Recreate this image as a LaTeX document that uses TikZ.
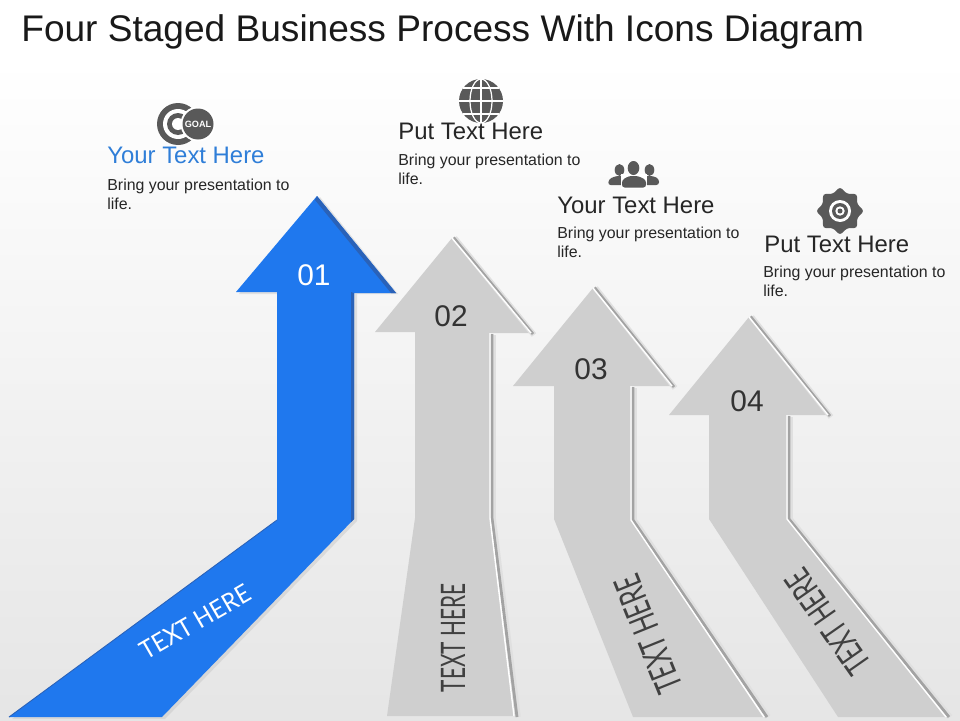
\documentclass[tikz,border=0pt]{standalone}
\usepackage{fontspec}
\setmainfont{Liberation Sans}
\newfontfamily\arrowfont{Lato}
\definecolor{bluearrow}{HTML}{1F78EE}
\definecolor{blueedge}{HTML}{2A62B8}
\definecolor{greyarrow}{HTML}{CFCFCF}
\definecolor{darkicon}{HTML}{595959}
\definecolor{bluehead}{HTML}{2F7ED8}
\tikzset{
  headtext/.style={anchor=base west,inner sep=0pt,font=\fontsize{13.6}{16}\selectfont,text=black!85},
  bodytext/.style={anchor=north west,inner sep=0pt,align=left,font=\fontsize{9.05}{10.8}\selectfont,text=black!85},
  numtext/.style={inner sep=0pt,font=\fontsize{17}{20}\selectfont,text=black!80},
  arrowtext/.style={inner sep=0pt,font=\arrowfont\fontsize{16}{18}\selectfont,text=black!75},
  greybody/.style={fill=greyarrow,draw=none},
  lightedge/.style={draw=white,line width=0.8pt,line join=miter},
  darkedge/.style={draw=black!36,line width=1.6pt,line join=miter},
  softedge/.style={draw=black!12,line width=3.2pt,line join=miter},
  icon/.style={fill=darkicon,draw=none}
}
\begin{document}
\begin{tikzpicture}[x=0.02cm,y=-0.02cm]
   \useasboundingbox (0,0) rectangle (960,720);
   \shade[top color=white,middle color=white!96!black,bottom color=white!90!black] (0,60) rectangle (960,720);

   % title
   \node[anchor=base west,inner sep=0pt,font=\fontsize{21.1}{24}\selectfont,text=black!90] (title) at (21,41) {Four Staged Business Process With Icons Diagram};

   % arrow 01
   \fill[black!25,opacity=0.4] (320,197) -- (398,294) -- (357,294) -- (357,521) -- (165,719) -- (12,719) -- (279,521) -- (279,294) -- (239,294) -- cycle;
   \fill[bluearrow] (317,196) -- (396,293) -- (354,293) -- (354,519) -- (162,717) -- (9,717) -- (277,520) -- (277,292) -- (236,292) -- cycle;
   \fill[blueedge] (317,196) -- (396,293) -- (391,293) -- (315,200) -- cycle;
   \fill[blueedge] (351,292) -- (354,293) -- (354,519) -- (351,522) -- cycle;
   \draw[blueedge,line width=0.5pt] (277,520) -- (9,717);
   \node[numtext,text=white] (num1) at (314,275) {01};
   \node[arrowtext,text=white,rotate=30,xscale=0.84,yscale=0.9] (label1) at (195,622) {TEXT HERE};

   % arrow 02
   \fill[greybody] (452,238) -- (532,333) -- (490,333) -- (490,518) -- (515,716) -- (387,716) -- (415,518) -- (415,332) -- (375,332) -- cycle;
   \draw[softedge] (454.5,238) -- (534,335) (493,335) -- (493,518) -- (518,717);
   \draw[darkedge] (453.5,237.5) -- (533,334) (492,334) -- (492,518) -- (517,717);
   \draw[lightedge] (452,238) -- (531,333) (490,333) -- (490,518) -- (514,716);
   \node[numtext] (num2) at (451,316) {02};
   \node[arrowtext,rotate=90,xscale=0.74,yscale=1.2] (label2) at (453,638) {TEXT HERE};

   % arrow 03
   \fill[greybody] (593,288) -- (673,386) -- (631,386) -- (631,520) -- (765,717) -- (633,717) -- (554,519) -- (554,386) -- (513,386) -- cycle;
   \draw[softedge] (595.5,288) -- (675,388) (634,388) -- (634,520) -- (768,717);
   \draw[darkedge] (594.5,287.5) -- (674,387) (633,387) -- (633,520) -- (767,717);
   \draw[lightedge] (593,288) -- (672,386) (631,386) -- (631,520) -- (764,717);
   \node[numtext] (num3) at (591,369) {03};
   \node[arrowtext,rotate=112,xscale=0.84,yscale=1.3] (label3) at (648,634) {TEXT HERE};

   % arrow 04
   \fill[greybody] (749,317) -- (829,415) -- (787,415) -- (787,519) -- (947,717) -- (838,717) -- (709,519) -- (709,415) -- (669,415) -- cycle;
   \draw[softedge] (751.5,317) -- (831,417) (790,417) -- (790,519) -- (950,717);
   \draw[darkedge] (750.5,316.5) -- (830,416) (789,416) -- (789,519) -- (949,717);
   \draw[lightedge] (749,317) -- (828,415) (787,415) -- (787,519) -- (946,717);
   \node[numtext] (num4) at (747,401) {04};
   \node[arrowtext,rotate=125,xscale=0.82,yscale=1.25] (label4) at (828,622) {TEXT HERE};

   % goal icon
   \fill[icon] (178,124) circle(21);
   \fill[white] (178,124) circle(15);
   \fill[icon] (178,124) circle(11);
   \fill[white] (178,124) circle(6);
   \fill[white] (198,124) circle(17.5);
   \fill[icon] (198,124) circle(15.5);
   \node[inner sep=0pt,text=white,font=\fontsize{5.2}{5}\selectfont\bfseries] (goal) at (198,124.5) {GOAL};

   % globe icon
   \fill[icon] (481,101) circle(22);
   \draw[white,line width=0.7pt] (459,101) -- (503,101) (481,79) -- (481,123)
     (463,88) -- (499,88) (463,114) -- (499,114);
   \draw[white,line width=0.7pt] (481,101) ellipse(11 and 22);

   % people icon
   \fill[icon] (619.5,170) ellipse(4.8 and 6) (649.5,170) ellipse(4.8 and 6);
   \fill[icon,rounded corners=1.5] (608,185) -- (609,179) -- (616,176) -- (623,176) -- (630,179) -- (630,185) -- cycle;
   \fill[icon,rounded corners=1.5] (639,185) -- (639,179) -- (646,176) -- (653,176) -- (659,179) -- (659,185) -- cycle;
   \fill[white] (621,189) rectangle (647,174);
   \fill[icon] (633.5,168) ellipse(5.8 and 7);
   \fill[icon,rounded corners=1.5] (622,187.5) -- (622,180) -- (629,176) -- (638,176) -- (646,180) -- (646,187.5) -- cycle;

   % gear icon
   \fill[icon,rounded corners=1.5] (840,187) \foreach \a in {22.5,45,...,337.5}{
     -- ({840+(mod(\a,45)==0 ? 24 : 18.5)*sin(\a)},{211-(mod(\a,45)==0 ? 24 : 18.5)*cos(\a)})} -- cycle;
   \fill[white] (840,211) circle(11);
   \fill[icon] (840,211) circle(8);
   \fill[white] (840,211) circle(4.7);
   \fill[icon] (840,211) circle(2.5);

   % texts
   \node[headtext,text=bluehead] (head1) at (107,163) {Your Text Here};
   \node[bodytext] (body1) at (107,178.5) {Bring your presentation to\\life.};
   \node[headtext] (head2) at (398,139) {Put Text Here};
   \node[bodytext] (body2) at (398,153.5) {Bring your presentation to\\life.};
   \node[headtext] (head3) at (557,213) {Your Text Here};
   \node[bodytext] (body3) at (557,226.5) {Bring your presentation to\\life.};
   \node[headtext] (head4) at (764,252) {Put Text Here};
   \node[bodytext] (body4) at (763,265.5) {Bring your presentation to\\life.};
\end{tikzpicture}
\end{document}
